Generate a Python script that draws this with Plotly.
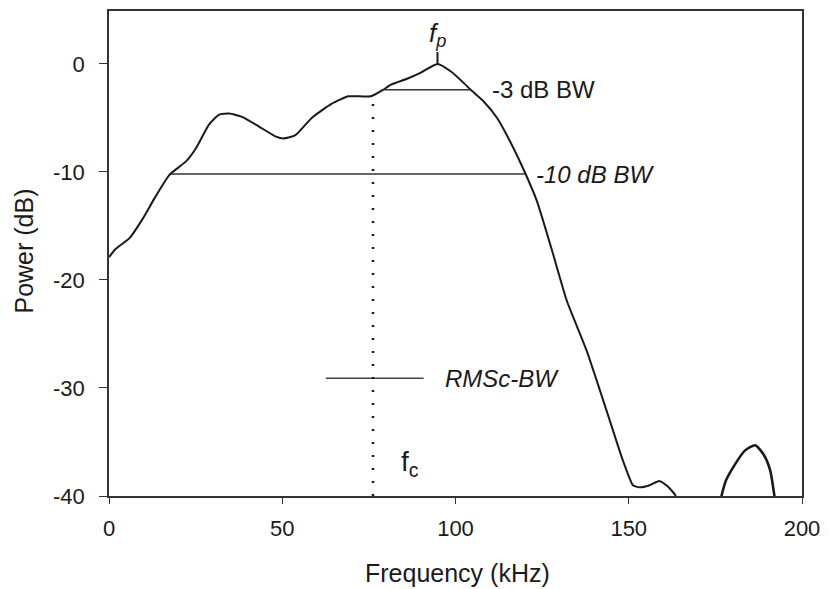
import plotly.graph_objects as go

# ---- data ----
freq_khz = [0, 1.7, 6.0, 9.8, 13.2, 17.5, 22.3, 25.1, 28.9, 31.8, 34.7, 38.4, 43.3,
            48.0, 50.4, 53.8, 58.5, 64.2, 69.1, 72.5, 75.6, 78.6, 81.5, 86.2, 90.0,
            94.8, 98.7, 102.5, 104.4, 108.2, 112.0, 115.8, 120.1, 123.5, 127.8,
            132.1, 137.8, 143.6, 148.3, 151.2, 153.1, 156.0, 158.8, 161.2, 163.4, 164.2]
power_db = [-17.9, -17.2, -16.1, -14.3, -12.4, -10.25, -9.0, -7.8, -5.6, -4.7, -4.6,
            -4.9, -5.8, -6.7, -6.9, -6.6, -5.0, -3.7, -3.0, -3.0, -3.0, -2.5, -1.9,
            -1.35, -0.8, 0.0, -0.7, -1.8, -2.4, -3.5, -5.0, -7.2, -10.1, -12.7, -17.2,
            -21.9, -26.5, -32.1, -36.7, -39.0, -39.2, -39.0, -38.6, -39.1, -39.9, -40.6]

bump_freq = [176.3, 178.0, 180.8, 183.5, 186.5, 189.0, 190.8, 192.3]
bump_db = [-40.6, -38.6, -37.0, -35.8, -35.3, -36.2, -37.6, -40.6]

bw3_freq = [78.6, 104.4]
bw3_db = -2.4
bw10_freq = [17.9, 120.1]
bw10_db = -10.2
rms_freq = [62.6, 90.8]
rms_db = -29.1
fc_khz = 76.2
fc_top_db = -3.7
fp_khz = 94.8
fp_tick_db = [0.0, 1.1]

x_ticks = [0, 50, 100, 150, 200]
x_tick_labels = ["0", "50", "100", "150", "200"]
y_ticks = [0, -10, -20, -30, -40]
y_tick_labels = ["0", "-10", "-20", "-30", "-40"]

FONT = "Arial, 'Liberation Sans', sans-serif"
INK = "#1a1a1a"

fig = go.Figure()

fig.add_trace(go.Scatter(x=freq_khz, y=power_db, mode="lines",
                         line=dict(color=INK, width=2, shape="spline", smoothing=0.5),
                         hoverinfo="skip"))
fig.add_trace(go.Scatter(x=bump_freq, y=bump_db, mode="lines",
                         line=dict(color=INK, width=2.6, shape="spline", smoothing=0.6),
                         hoverinfo="skip"))
# bandwidth lines
fig.add_trace(go.Scatter(x=bw3_freq, y=[bw3_db, bw3_db], mode="lines",
                         line=dict(color="#333", width=1.5), hoverinfo="skip"))
fig.add_trace(go.Scatter(x=bw10_freq, y=[bw10_db, bw10_db], mode="lines",
                         line=dict(color="#333", width=1.5), hoverinfo="skip"))
fig.add_trace(go.Scatter(x=rms_freq, y=[rms_db, rms_db], mode="lines",
                         line=dict(color="#444", width=1.6), hoverinfo="skip"))
# centroid dotted line
fig.add_trace(go.Scatter(x=[fc_khz, fc_khz], y=[fc_top_db, -40], mode="lines",
                         line=dict(color=INK, width=2.5, dash="2px,11px"), hoverinfo="skip"))
# peak tick
fig.add_trace(go.Scatter(x=[fp_khz, fp_khz], y=fp_tick_db, mode="lines",
                         line=dict(color=INK, width=2), hoverinfo="skip"))

ann_font = dict(family=FONT, size=24, color=INK)
fig.add_annotation(x=fp_khz, y=2.7, xref="x", yref="y", text="<i>f<sub>p</sub></i>",
                   showarrow=False, font=dict(family=FONT, size=26, color=INK))
fig.add_annotation(x=bw3_freq[1] + 5.5, y=bw3_db, xref="x", yref="y", text="-3 dB BW",
                   showarrow=False, xanchor="left", font=ann_font)
fig.add_annotation(x=bw10_freq[1] + 2.6, y=bw10_db, xref="x", yref="y", text="<i>-10 dB BW</i>",
                   showarrow=False, xanchor="left", font=ann_font)
fig.add_annotation(x=rms_freq[1] + 5.5, y=rms_db, xref="x", yref="y", text="<i>RMSc-BW</i>",
                   showarrow=False, xanchor="left", font=ann_font)
fig.add_annotation(x=fc_khz + 7.5, y=-37.0, xref="x", yref="y", text="f<sub>c</sub>",
                   showarrow=False, xanchor="left", font=dict(family=FONT, size=28, color=INK))

# axis titles
fig.add_annotation(x=0.503, y=-0.158, xref="paper", yref="paper", text="Frequency (kHz)",
                   xanchor="center", yanchor="middle",
                   showarrow=False, font=dict(family=FONT, size=25, color=INK))
fig.add_annotation(x=-0.122, y=0.505, xref="paper", yref="paper", text="Power (dB)",
                   xanchor="center", yanchor="middle",
                   textangle=-90, showarrow=False, font=dict(family=FONT, size=25, color=INK))

axis_common = dict(showgrid=False, zeroline=False, showline=True, linecolor="#333",
                   linewidth=1.5, mirror=True, ticks="outside", tickcolor="#333",
                   tickfont=dict(family=FONT, size=22, color=INK))
fig.update_xaxes(range=[0, 200], tickvals=x_ticks, ticktext=x_tick_labels, ticklen=6,
                 ticklabelstandoff=6, **axis_common)
fig.update_yaxes(range=[-40, 4.9], tickvals=y_ticks, ticktext=y_tick_labels, ticklen=8,
                 ticklabelstandoff=10, **axis_common)

fig.update_layout(width=829, height=589, showlegend=False,
                  margin=dict(l=109, r=22, t=9, b=93),
                  paper_bgcolor="white", plot_bgcolor="white")

fig.write_html("out.html")
